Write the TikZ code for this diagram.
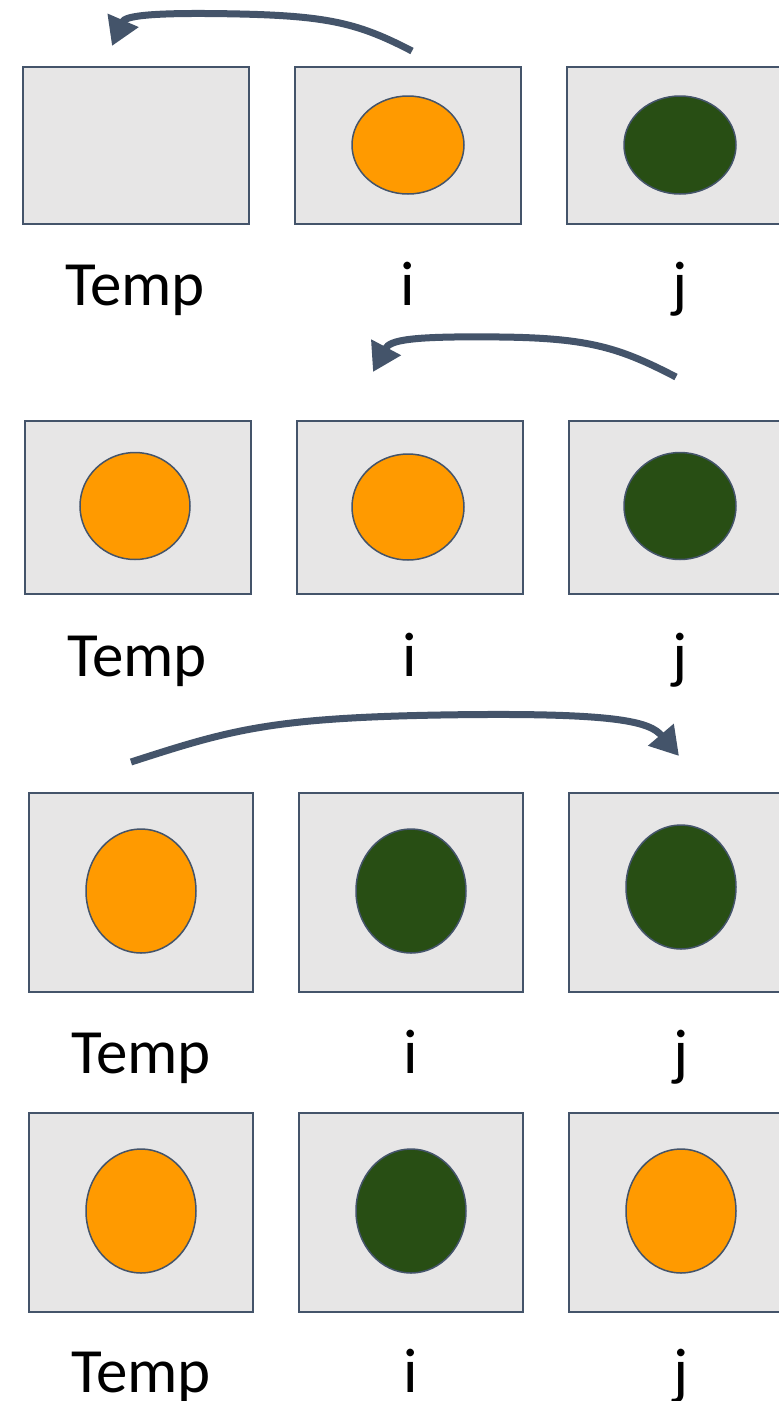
\documentclass[tikz,border=0pt]{standalone}
\usepackage{fontspec}
\setmainfont{Carlito}
\usetikzlibrary{arrows.meta,shapes.geometric}
\definecolor{edge}{HTML}{44546A}
\definecolor{boxfill}{HTML}{E7E6E6}
\definecolor{orng}{HTML}{FF9A00}
\definecolor{dgreen}{HTML}{284E14}
\begin{document}
\begin{tikzpicture}[x=1pt,y=-1pt,
  cell/.style={draw=edge,fill=boxfill,line width=1.5pt,inner sep=0pt,anchor=north west},
  ball/.style={ellipse,draw=edge,line width=1.5pt,inner sep=0pt},
  obal/.style={ball,fill=orng},
  gbal/.style={ball,fill=dgreen},
  lbl/.style={anchor=base,inner sep=0pt,font=\fontsize{63}{75}\selectfont},
  move/.style={draw=edge,line width=7pt,-{Triangle[length=28pt,width=32pt]}}]
\clip (0,0) rectangle (779,1401);
\fill[white] (0,0) rectangle (779,1401);
% row 1
\node[cell,minimum width=226pt,minimum height=157pt] (a1) at (22,66) {};
\node[cell,minimum width=226pt,minimum height=157pt] (a2) at (294,66) {};
\node[cell,minimum width=226pt,minimum height=157pt] (a3) at (566,66) {};
\node[obal,minimum width=112pt,minimum height=98pt] (e12) at (408,145) {};
\node[gbal,minimum width=112pt,minimum height=98pt] (e13) at (680,145) {};
\node[lbl] (t1) at (135,305) {Temp};
\node[lbl] (i1) at (408,305) {i};
\node[lbl] (j1) at (680,305) {j};
% row 2
\node[cell,minimum width=226pt,minimum height=173pt] (b1) at (24,420) {};
\node[cell,minimum width=226pt,minimum height=173pt] (b2) at (296,420) {};
\node[cell,minimum width=226pt,minimum height=173pt] (b3) at (568,420) {};
\node[obal,minimum width=110pt,minimum height=107pt] (e21) at (135,506) {};
\node[obal,minimum width=112pt,minimum height=106pt] (e22) at (408,507) {};
\node[gbal,minimum width=112pt,minimum height=107pt] (e23) at (680,506) {};
\node[lbl] (t2) at (137,676) {Temp};
\node[lbl] (i2) at (410,676) {i};
\node[lbl] (j2) at (680,676) {j};
% row 3
\node[cell,minimum width=224pt,minimum height=199pt] (c1) at (28,792) {};
\node[cell,minimum width=224pt,minimum height=199pt] (c2) at (298,792) {};
\node[cell,minimum width=224pt,minimum height=199pt] (c3) at (568,792) {};
\node[obal,minimum width=110pt,minimum height=124pt] (e31) at (141,891) {};
\node[gbal,minimum width=110pt,minimum height=124pt] (e32) at (411,891) {};
\node[gbal,minimum width=110pt,minimum height=124pt] (e33) at (681,887) {};
\node[lbl] (t3) at (141,1073) {Temp};
\node[lbl] (i3) at (411,1073) {i};
\node[lbl] (j3) at (681,1073) {j};
% row 4
\node[cell,minimum width=224pt,minimum height=199pt] (d1) at (28,1112) {};
\node[cell,minimum width=224pt,minimum height=199pt] (d2) at (298,1112) {};
\node[cell,minimum width=224pt,minimum height=199pt] (d3) at (568,1112) {};
\node[obal,minimum width=110pt,minimum height=124pt] (e41) at (141,1211) {};
\node[gbal,minimum width=110pt,minimum height=124pt] (e42) at (411,1211) {};
\node[obal,minimum width=110pt,minimum height=124pt] (e43) at (681,1211) {};
\node[lbl] (t4) at (141,1392) {Temp};
\node[lbl] (i4) at (411,1392) {i};
\node[lbl] (j4) at (681,1392) {j};
% arrows
\coordinate (s1) at (412,51);
\coordinate (f1) at (112,46);
\coordinate (s2) at (676,377);
\coordinate (f2) at (373,372);
\coordinate (s3) at (131,762);
\coordinate (f3) at (679,756);
\draw[move] (s1) .. controls (360,24) and (330,16) .. (240,14) .. controls (150,12) and (125,16) .. (f1);
\draw[move] (s2) .. controls (620,348) and (590,338) .. (500,337) .. controls (410,336) and (390,340) .. (f2);
\draw[move] (s3) .. controls (230,730) and (270,718) .. (440,715) .. controls (620,712) and (650,722) .. (f3);
\end{tikzpicture}
\end{document}
